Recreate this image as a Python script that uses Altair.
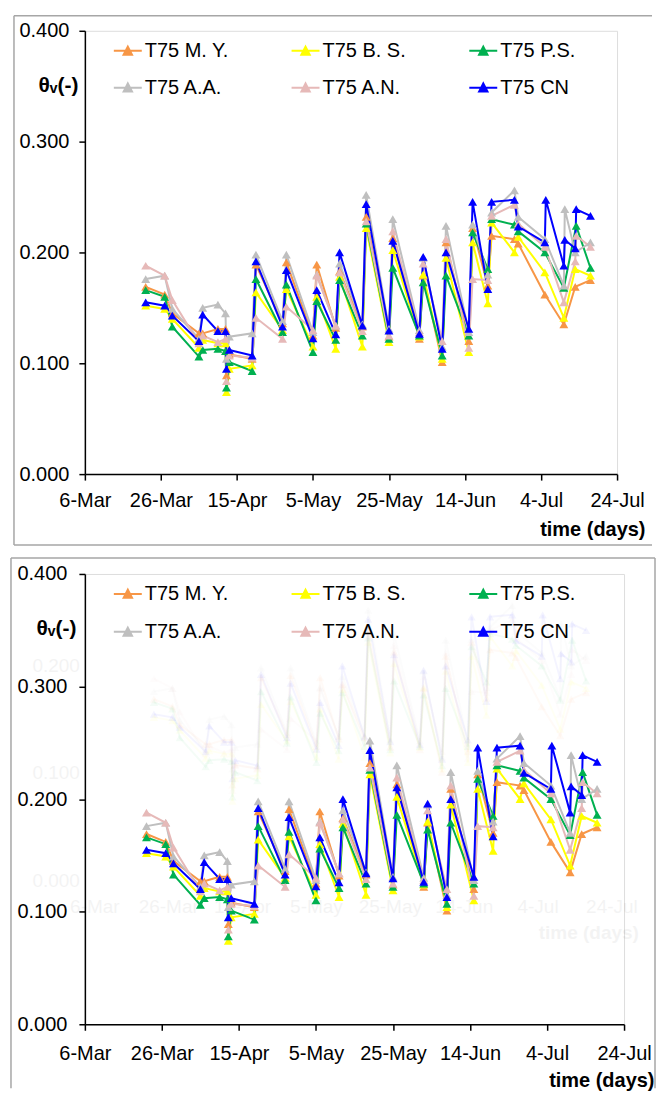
import json
import altair as alt
import pandas as pd

# ---------------- data ----------------
series_names = ["T75 M. Y.", "T75 B. S.", "T75 P.S.", "T75 A.A.", "T75 A.N.", "T75 CN"]
series_colors = ["#F79646", "#FFFF00", "#00B050", "#BFBFBF", "#E6B9B8", "#0000FF"]

start_date = "2010-03-06"
dates = [
    "2010-03-22", "2010-03-27", "2010-03-29", "2010-04-05", "2010-04-06", "2010-04-10",
    "2010-04-12 00:00", "2010-04-12 06:00", "2010-04-13", "2010-04-19", "2010-04-20",
    "2010-04-27", "2010-04-28", "2010-05-05", "2010-05-06", "2010-05-11", "2010-05-12",
    "2010-05-18", "2010-05-19", "2010-05-25", "2010-05-26", "2010-06-02", "2010-06-03",
    "2010-06-08", "2010-06-09", "2010-06-15", "2010-06-16", "2010-06-20", "2010-06-21",
    "2010-06-27", "2010-06-28", "2010-07-05 00:00", "2010-07-05 06:00",
    "2010-07-10 00:00", "2010-07-10 06:00", "2010-07-13 00:00", "2010-07-13 06:00", "2010-07-17",
]

my_vals = [0.169, 0.162, 0.145, 0.127, 0.127, 0.131, 0.131, 0.089, 0.108, 0.104,
           0.189, 0.136, 0.191, 0.125, 0.189, 0.132, 0.183, 0.133, 0.232, 0.124,
           0.213, 0.122, 0.179, 0.101, 0.209, 0.120, 0.222, 0.170, 0.215, 0.212,
           0.208, 0.162, None, 0.135, None, 0.169, None, 0.175]
bs_vals = [0.152, 0.149, 0.140, 0.114, 0.121, 0.118, 0.118, 0.074, 0.095, 0.098,
           0.164, 0.130, 0.167, 0.115, 0.160, 0.113, 0.178, 0.115, 0.222, 0.119,
           0.202, 0.124, 0.180, 0.104, 0.195, 0.110, 0.209, 0.154, 0.227, 0.200,
           0.214, 0.182, None, 0.141, None, 0.185, None, 0.179]
ps_vals = [0.166, 0.160, 0.133, 0.106, 0.112, 0.113, 0.111, 0.078, 0.101, 0.093,
           0.176, 0.128, 0.171, 0.110, 0.156, 0.121, 0.175, 0.125, 0.226, 0.122,
           0.186, 0.125, 0.173, 0.107, 0.179, 0.125, 0.218, 0.185, 0.230, 0.225,
           0.219, 0.200, None, 0.168, None, None, 0.224, 0.186]
aa_vals = [0.176, 0.179, 0.149, 0.122, 0.150, 0.153, 0.145, 0.104, 0.124, 0.127,
           0.198, 0.138, 0.198, 0.128, 0.180, 0.134, 0.190, 0.135, 0.252, 0.131,
           0.230, 0.130, 0.195, 0.115, 0.224, 0.128, 0.225, 0.180, 0.236, 0.256,
           0.232, 0.212, None, 0.170, 0.239, 0.200, None, 0.209]
an_vals = [0.188, 0.179, 0.157, 0.118, 0.125, 0.119, 0.122, 0.084, 0.107, 0.105,
           0.141, 0.122, 0.151, 0.130, 0.179, 0.134, 0.182, 0.129, 0.228, 0.125,
           0.219, 0.128, 0.190, 0.120, 0.212, 0.114, 0.176, 0.175, 0.233, 0.243,
           0.226, 0.205, None, 0.155, None, 0.192, 0.215, 0.205]
cn_vals = [0.155, 0.152, 0.143, 0.120, 0.144, 0.129, 0.129, 0.095, 0.112, 0.107,
           0.192, 0.133, 0.184, 0.1225, 0.166, 0.126, 0.200, 0.134, 0.2435, 0.1295,
           0.2105, 0.1265, 0.196, 0.113, 0.200, 0.131, 0.2457, 0.167, 0.2457, 0.2475,
           0.2234, 0.209, 0.2475, 0.188, 0.2114, 0.2036, 0.239, 0.233]

x_tick_labels = ["6-Mar", "26-Mar", "15-Apr", "5-May", "25-May", "14-Jun", "4-Jul", "24-Jul"]
x_tick_step = 20
y_ticks = [0.0, 0.1, 0.2, 0.3, 0.4]
ghost_y_ticks = [0.0, 0.1, 0.2]

x_title = "time (days)"
y_title = "θᵥ(-)"

# ---------------- build tables ----------------
series_vals = [my_vals, bs_vals, ps_vals, aa_vals, an_vals, cn_vals]
t0 = pd.Timestamp(start_date)
days = [(pd.Timestamp(d) - t0) / pd.Timedelta(days=1) for d in dates]
rows = []
for name, col, vals in zip(series_names, series_colors, series_vals):
    for d, v in zip(days, vals):
        if v is not None:
            rows.append({"series": name, "col": col, "day": d, "value": v})
df = pd.DataFrame(rows)

# faint ghost copy of the upper panel seen inside the lower one
G_X0, G_XS, G_Y0, G_YS = 2.59, 0.959, 0.1277, 0.9534
df["gday"] = G_X0 + G_XS * df["day"]
df["gval"] = G_Y0 + G_YS * df["value"]

x_tick_days = [i * x_tick_step for i in range(len(x_tick_labels))]
x_domain = [0, x_tick_days[-1]]
label_expr = json.dumps(x_tick_labels) + "[round(datum.value / %d)]" % x_tick_step

ghost_y_df = pd.DataFrame({"t": ["%.3f" % v for v in ghost_y_ticks],
                           "gb": [G_Y0 + G_YS * v for v in ghost_y_ticks]})
ghost_x_df = pd.DataFrame({"t": x_tick_labels,
                           "gd": [G_X0 + G_XS * d for d in x_tick_days],
                           "gb": [G_Y0 - G_YS * 0.025] * len(x_tick_labels)})
ghost_t_df = pd.DataFrame({"t": [x_title], "gd": [G_X0 + G_XS * 147.3], "gb": [G_Y0 - G_YS * 0.049]})

FONT = "Liberation Sans"
FS = 20
# legend glyph: a short line with a (stroke-filled) triangle in its middle
SYMBOL = ("M-1,0L1,0"
          "M-0.3,0.28L0,-0.3L0.3,0.28Z"
          "M-0.18,0.17L0,-0.18L0.18,0.17Z"
          "M-0.07,0.07L0,-0.07L0.07,0.07Z")
FRAME = "#A6A6A6"
one = pd.DataFrame({"k": [0]})


def rule(opacity=1, **kw):
    enc = {k: alt.value(v) for k, v in kw.items()}
    return alt.Chart(one).mark_rule(color=FRAME, strokeWidth=1.5, opacity=opacity).encode(**enc)


def panel(w, h, p, ghost=False):
    xs = alt.Scale(domain=x_domain, nice=False, zero=False)
    ys = alt.Scale(domain=[0, 0.4], nice=False)
    cscale = alt.Scale(domain=series_names, range=series_colors)
    legend = alt.Legend(
        title=None, orient="none", legendX=p["lx"], legendY=p["ly"], columns=3,
        direction="horizontal", gridAlign="all", columnPadding=p["cpad"], rowPadding=p["rpad"],
        symbolType=SYMBOL, symbolSize=784, symbolStrokeWidth=2, symbolOpacity=1,
        labelFontSize=FS, labelFont=FONT, labelColor="black", labelOffset=2, padding=0,
    )
    xaxis = alt.Axis(
        values=x_tick_days, labelExpr=label_expr, title=x_title,
        titleFontSize=FS, titleFontWeight="bold", titleAlign="right", titleBaseline="middle",
        titleX=p["tx"], titleY=p["ty"], titleColor="black", titleFont=FONT,
        labelFontSize=FS, labelFont=FONT, labelColor="black", labelPadding=p["xlp"],
        labelFlush=False, labelOverlap=False,
        tickSize=6, tickColor="black", tickWidth=1.5, domainColor="black", domainWidth=1.5, grid=False,
    )
    yaxis = alt.Axis(
        values=y_ticks, format=".3f", title=y_title, titleAngle=0,
        titleAlign="right", titleBaseline="middle", titleX=p["yx"], titleY=p["yy"],
        titleFontSize=FS + 1, titleFontWeight="bold", titleColor="black", titleFont=FONT,
        labelFontSize=FS, labelFont=FONT, labelColor="black", labelPadding=p["ylp"],
        labelFlush=False, labelOverlap=False,
        tickSize=6, tickColor="black", tickWidth=1.5, domainColor="black", domainWidth=1.5, grid=False,
    )
    lines = alt.Chart(df).mark_line(strokeWidth=2).encode(
        x=alt.X("day:Q", scale=xs, axis=xaxis),
        y=alt.Y("value:Q", scale=ys, axis=yaxis),
        color=alt.Color("series:N", scale=cscale, legend=legend, sort=series_names),
    )
    pts = alt.Chart(df).mark_point(shape="triangle-up", filled=True, size=80, opacity=1).encode(
        x=alt.X("day:Q", scale=xs, axis=xaxis),
        y=alt.Y("value:Q", scale=ys, axis=yaxis),
        color=alt.Color("series:N", scale=cscale, legend=None, sort=series_names),
    )
    layers = list(p["frame"])
    if ghost:
        g_op = 0.045
        gx = alt.X("gday:Q", scale=xs, axis=xaxis)
        gy = alt.Y("gval:Q", scale=ys, axis=yaxis)
        layers.append(
            alt.Chart(df).mark_line(strokeWidth=2, strokeOpacity=g_op).encode(
                x=gx, y=gy, stroke=alt.Stroke("col:N", scale=None), detail="series:N")
        )
        layers.append(
            alt.Chart(df).mark_point(shape="triangle-up", filled=True, size=70, fillOpacity=g_op,
                                     strokeWidth=0).encode(
                x=gx, y=gy, fill=alt.Fill("col:N", scale=None))
        )
        layers.append(
            alt.Chart(ghost_y_df).mark_text(align="right", baseline="middle", fontSize=FS - 1,
                                            font=FONT, color="black", opacity=g_op).encode(
                x=alt.value(-5), y=alt.Y("gb:Q", scale=ys, axis=yaxis), text="t:N")
        )
        layers.append(
            alt.Chart(ghost_x_df).mark_text(align="center", baseline="middle", fontSize=FS - 1,
                                            font=FONT, color="black", opacity=g_op).encode(
                x=alt.X("gd:Q", scale=xs, axis=xaxis), y=alt.Y("gb:Q", scale=ys, axis=yaxis), text="t:N")
        )
        layers.append(
            alt.Chart(ghost_t_df).mark_text(align="right", baseline="middle", fontSize=FS - 1,
                                            fontWeight="bold", font=FONT, color="black",
                                            opacity=g_op).encode(
                x=alt.X("gd:Q", scale=xs, axis=xaxis), y=alt.Y("gb:Q", scale=ys, axis=yaxis), text="t:N")
        )
    layers += [lines, pts]
    return alt.layer(*layers).properties(width=w, height=h)


W1, H1 = 533, 444
W2, H2 = 540, 451

top_frame = [
    rule(x=-76, y=0, y2=1, opacity=0),
    rule(x=-71, x2=568, y=-15),
    rule(x=-71, y=-15, y2=H1 + 71),
    rule(x=-71, x2=568, y=H1 + 71),
]
bot_frame = [
    rule(x=-74, x2=571, y=-16),
    rule(x=-74, y=-16, y2=H2 + 64),
    rule(x=571, y=-16, y2=H2 + 64),
]

top = panel(W1, H1, dict(lx=28, ly=5, cpad=58, rpad=12, tx=561, ty=55, xlp=10,
                         yx=-7, yy=55, ylp=10, frame=top_frame))
bottom = panel(W2, H2, dict(lx=28, ly=5, cpad=58, rpad=13, tx=570, ty=56, xlp=13,
                            yx=-9, yy=55, ylp=12, frame=bot_frame), ghost=True)

chart = (
    alt.vconcat(top, bottom, spacing=9)
    .resolve_scale(color="independent")
    .resolve_legend(color="independent")
    .properties(padding={"left": 8, "top": 13, "right": 0, "bottom": 0}, background="white")
    .configure_view(strokeWidth=0)
    .configure(font=FONT)
)

chart.save("out.html", embed_options={"renderer": "svg", "actions": False})
